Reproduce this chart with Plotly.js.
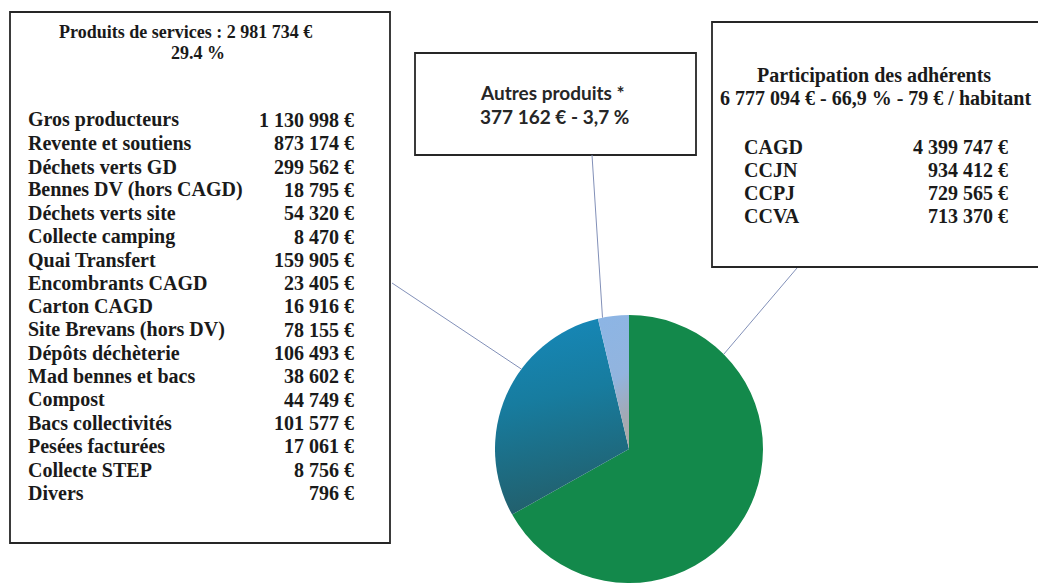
<!DOCTYPE html>
<html>
<head>
<meta charset="utf-8">
<script src="https://cdn.plot.ly/plotly-3.0.1.min.js"></script>
<style>
  html, body { margin: 0; padding: 0; background: #ffffff; }
  #chart { width: 1038px; height: 585px; }
</style>
</head>
<body>
<div id="chart"></div>
<script>
// Recettes : répartition en trois blocs
const blocLabels = ['Participation des adhérents', 'Produits de services', 'Autres produits'];
const blocValues = [6777094, 2981734, 377162];
const blocColors = ['#13894b', '#1686b5', '#8fb5e2'];

// Détail des produits de services
const serviceLabels = [
  'Gros producteurs', 'Revente et soutiens', 'Déchets verts GD', 'Bennes DV (hors CAGD)',
  'Déchets verts site', 'Collecte camping', 'Quai Transfert', 'Encombrants CAGD',
  'Carton CAGD', 'Site Brevans (hors DV)', 'Dépôts déchèterie', 'Mad bennes et bacs',
  'Compost', 'Bacs collectivités', 'Pesées facturées', 'Collecte STEP', 'Divers'
];
const serviceValues = [
  1130998, 873174, 299562, 18795, 54320, 8470, 159905, 23405,
  16916, 78155, 106493, 38602, 44749, 101577, 17061, 8756, 796
];

// Détail de la participation des adhérents
const memberLabels = ['CAGD', 'CCJN', 'CCPJ', 'CCVA'];
const memberValues = [4399747, 934412, 729565, 713370];
const perInhabitant = 79;

const W = 1038, H = 585;
const px = v => v / W;
const py = v => 1 - v / H;

// thousands separated with spaces, French style
function euro(v) {
  return String(v).replace(/\B(?=(\d{3})+(?!\d))/g, ' ') + ' €';
}
const total = blocValues.reduce((a, b) => a + b, 0);
const pct = v => (100 * v / total);

// pie placement
const cx = 629, cy = 449, r = 134;

const serif = { family: '"Liberation Serif", "Times New Roman", serif', size: 20, color: '#1a1a1a', weight: 'bold' };
const serifHead = Object.assign({}, serif, { size: 18 });
const sans = { family: 'Lato, "Open Sans", sans-serif', size: 19, color: '#262626', weight: 'bold' };

const annotations = [];
function addText(text, x, y, font, xanchor) {
  annotations.push({
    text: text, x: px(x), y: py(y), xref: 'paper', yref: 'paper',
    xanchor: xanchor || 'center', yanchor: 'middle', showarrow: false, font: font
  });
}

// left box: produits de services
addText('Produits de services : ' + euro(blocValues[1]), 185, 32, serifHead);
addText(pct(blocValues[1]).toFixed(1) + ' %', 198, 53, serifHead);
serviceLabels.forEach((lab, i) => {
  const y = 120 + i * 23.3;
  addText(lab, 26, y, serif, 'left');
  addText(euro(serviceValues[i]), 356, y, serif, 'right');
});

// middle box: autres produits
addText('Autres produits *', 552, 92, sans);
addText(euro(blocValues[2]) + ' - ' + pct(blocValues[2]).toFixed(1).replace('.', ',') + ' %', 554, 117, sans);

// right box: participation des adhérents
addText('Participation des adhérents', 874, 76, serif);
addText(euro(blocValues[0]) + ' - ' + pct(blocValues[0]).toFixed(1).replace('.', ',') + ' % - ' + perInhabitant + ' € / habitant', 875, 98, serif);
memberLabels.forEach((lab, i) => {
  const y = 147 + i * 23;
  addText(lab, 742, y, serif, 'left');
  addText(euro(memberValues[i]), 1010, y, serif, 'right');
});

// frames
const boxLine = { color: '#262626', width: 1.8 };
function rect(x0, y0, x1, y1) {
  return { type: 'rect', xref: 'paper', yref: 'paper', x0: px(x0), x1: px(x1), y0: py(y1), y1: py(y0), line: boxLine, fillcolor: 'rgba(0,0,0,0)' };
}
// leader from a box to a point on the pie rim (angle clockwise from 12 o'clock)
function leader(x0, y0, deg) {
  const a = deg * Math.PI / 180;
  const x1 = cx + r * Math.sin(a), y1 = cy - r * Math.cos(a);
  return { type: 'line', xref: 'paper', yref: 'paper', x0: px(x0), y0: py(y0), x1: px(x1), y1: py(y1), line: { color: '#8290b8', width: 1 } };
}
const shapes = [
  rect(10, 12, 390, 543),
  rect(415, 53, 696, 155),
  rect(712, 22, 1046, 267),
  leader(392, 283, 306.6),
  leader(592, 155, 348.6),
  leader(797, 268, 45)
];

const trace = {
  type: 'pie',
  labels: blocLabels,
  values: blocValues,
  sort: false,
  direction: 'clockwise',
  rotation: 0,
  textinfo: 'none',
  hoverinfo: 'label+value+percent',
  marker: { colors: blocColors, line: { width: 0 } },
  domain: { x: [px(cx - r), px(cx + r)], y: [py(cy + r), py(cy - r)] },
  showlegend: false
};

const layout = {
  width: W, height: H,
  margin: { l: 0, r: 0, t: 0, b: 0 },
  paper_bgcolor: '#ffffff',
  plot_bgcolor: '#ffffff',
  showlegend: false,
  shapes: shapes,
  annotations: annotations
};

Plotly.newPlot('chart', [trace], layout, { displayModeBar: false, staticPlot: true }).then(gd => {
  // shaded fills for the two blue slices
  const svg = gd.querySelector('svg.main-svg');
  const ns = 'http://www.w3.org/2000/svg';
  const defs = document.createElementNS(ns, 'defs');
  function grad(id, stops) {
    const g = document.createElementNS(ns, 'linearGradient');
    g.setAttribute('id', id);
    g.setAttribute('x1', '0'); g.setAttribute('y1', '0');
    g.setAttribute('x2', '0.15'); g.setAttribute('y2', '1');
    stops.forEach(([o, c]) => {
      const s = document.createElementNS(ns, 'stop');
      s.setAttribute('offset', o);
      s.setAttribute('stop-color', c);
      g.appendChild(s);
    });
    defs.appendChild(g);
  }
  grad('servicesFill', [[0, '#1689bb'], [0.45, '#177c9f'], [1, '#22606d']]);
  grad('autresFill', [[0, '#8cb5e5'], [0.55, '#92b4de'], [0.85, '#a2a9b6'], [1, '#a9a9aa']]);
  svg.insertBefore(defs, svg.firstChild);
  const slices = gd.querySelectorAll('g.slice path.surface');
  if (slices[1]) slices[1].style.fill = 'url(#servicesFill)';
  if (slices[2]) slices[2].style.fill = 'url(#autresFill)';
});
</script>
</body>
</html>
